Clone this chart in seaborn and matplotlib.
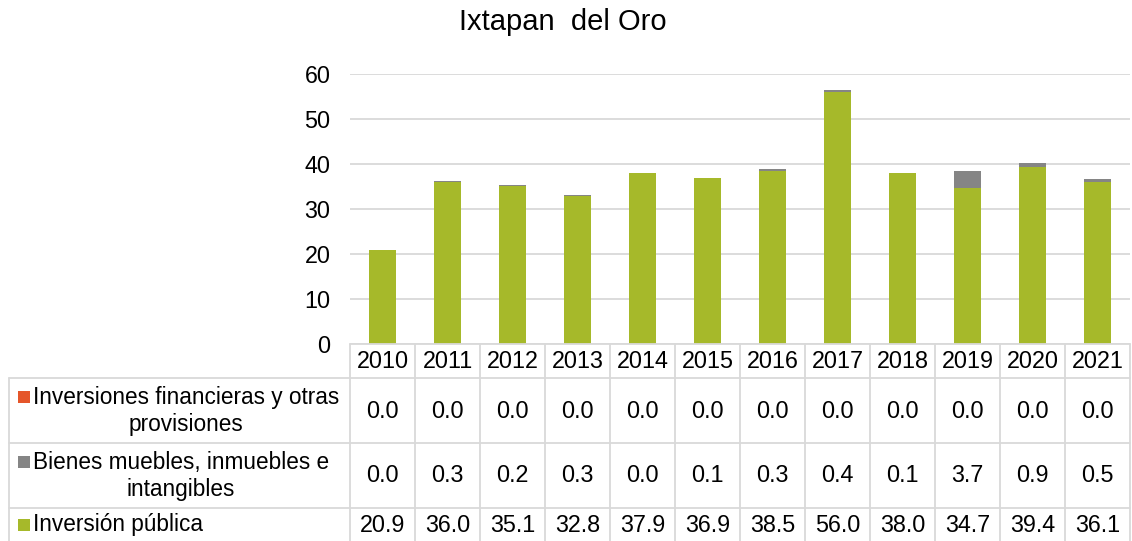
import matplotlib.pyplot as plt
import seaborn as sns
from matplotlib.patches import Rectangle

# data
years = ["2010", "2011", "2012", "2013", "2014", "2015",
         "2016", "2017", "2018", "2019", "2020", "2021"]
inversion_publica = [20.9, 36.0, 35.1, 32.8, 37.9, 36.9, 38.5, 56.0, 38.0, 34.7, 39.4, 36.1]
bienes = [0.0, 0.3, 0.2, 0.3, 0.0, 0.1, 0.3, 0.4, 0.1, 3.7, 0.9, 0.5]
inversiones_fin = [0.0] * 12

series_names = ["Inversiones financieras y otras\nprovisiones",
                "Bienes muebles, inmuebles e\nintangibles",
                "Inversión pública"]
series_values = [inversiones_fin, bienes, inversion_publica]
series_colors = ["#E5562A", "#858585", "#A6B92A"]

sns.set_theme(style="white")
plt.rcParams['font.family'] = ['Liberation Sans', 'DejaVu Sans']
plt.rcParams['text.color'] = 'black'

W, H = 1132, 541
fig = plt.figure(figsize=(W / 100, H / 100), dpi=100)

# layout in pixels
x0, col_w = 350, 65
y_base, y_top = 344, 74
rows = [344, 378, 443, 508, 541]
grid_c = "#D9D9D9"
fs = 16.8

ax = fig.add_axes([x0 / W, (H - y_base) / H, 12 * col_w / W, (y_base - y_top) / H])

# stacked bars by drawing cumulative totals back to front
tot_gray = [a + b for a, b in zip(inversion_publica, bienes)]
tot_all = [a + b for a, b in zip(tot_gray, inversiones_fin)]
for vals, c in [(tot_all, series_colors[0]), (tot_gray, series_colors[1]),
                (inversion_publica, series_colors[2])]:
    sns.barplot(x=years, y=vals, color=c, saturation=1, width=0.42,
                linewidth=0, edgecolor="none", ax=ax)

ax.set_xlim(-0.5, 11.5)
ax.set_ylim(0, 60)
ax.set_yticks(range(0, 61, 10))
ax.set_xticks([])
ax.set_xlabel("")
ax.set_ylabel("")
ax.tick_params(axis="y", length=0, pad=14, labelsize=fs, colors="black")
ax.set_axisbelow(True)
ax.yaxis.grid(True, color=grid_c, lw=1.3)
for s in ax.spines.values():
    s.set_visible(False)

fig.text(563 / W, 1 - 22 / H, "Ixtapan  del Oro", ha="center", va="center", fontsize=21)

# data table under the chart
tab = fig.add_axes([0, 0, 1, 1])
tab.set_xlim(0, W)
tab.set_ylim(H, 0)
tab.axis("off")

x_right = x0 + 12 * col_w
tab.plot([x0, x_right], [rows[0], rows[0]], color=grid_c, lw=1.3)
for y in rows[1:4]:
    tab.plot([9, x_right], [y, y], color=grid_c, lw=1.3)
for i in range(13):
    xx = x0 + i * col_w
    tab.plot([xx, xx], [rows[0], H], color=grid_c, lw=1.3)
tab.plot([9, 9], [rows[1], H], color=grid_c, lw=1.3)

for i, yr in enumerate(years):
    tab.text(x0 + (i + 0.5) * col_w, (rows[0] + rows[1]) / 2 + 1, yr,
             ha="center", va="center", fontsize=fs)

row_centers = [411, 476, 525]
for r, (name, vals, c) in enumerate(zip(series_names, series_values, series_colors)):
    yc = row_centers[r]
    two_lines = "\n" in name
    sq_y = yc - 14 if two_lines else yc
    tab.add_patch(Rectangle((18, sq_y - 6), 12, 12, color=c, lw=0))
    tab.text(33, yc, name, ha="left", va="center", multialignment="center",
             fontsize=16.3, linespacing=1.22)
    for i, v in enumerate(vals):
        tab.text(x0 + (i + 0.5) * col_w, yc, f"{v:.1f}", ha="center", va="center",
                 fontsize=fs)

fig.savefig("out.png", dpi=100)
